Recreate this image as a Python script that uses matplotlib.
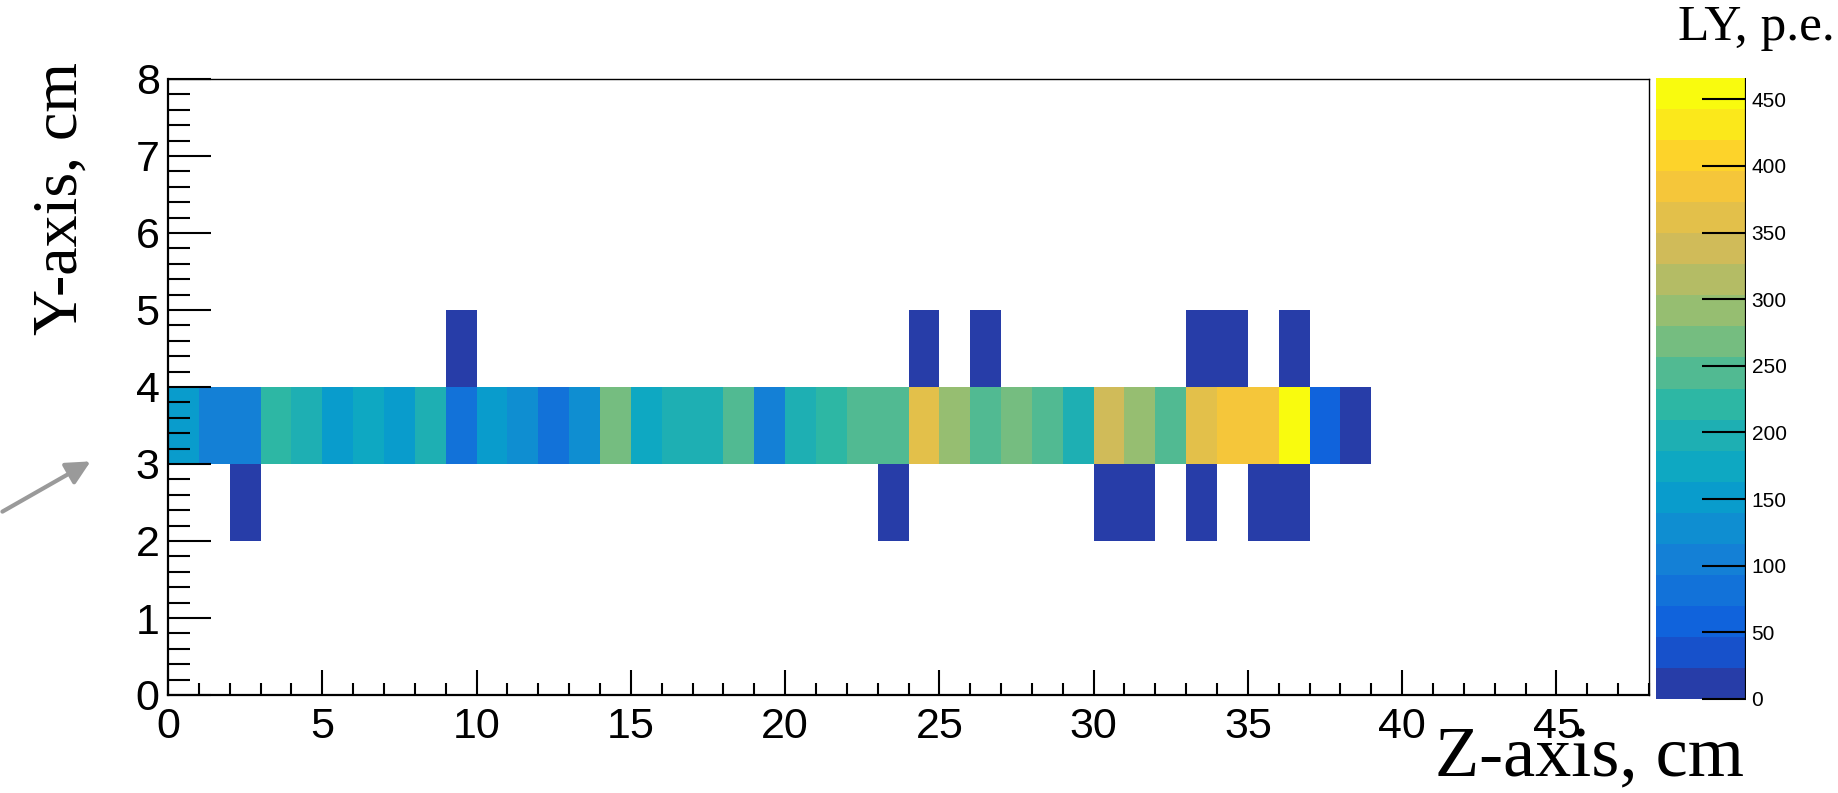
import numpy as np
import matplotlib.pyplot as plt
from matplotlib.colors import LinearSegmentedColormap, ListedColormap, BoundaryNorm
from matplotlib.ticker import MultipleLocator

# Light yield per 1x1 cm cell, central row (Y = 3..4 cm), Z = 0..38 cm
row_z = np.arange(39)
row_ly = [152, 115, 115, 222, 200, 152, 172, 150, 198, 80,
          155, 130, 92, 125, 268, 170, 205, 205, 248, 110,
          202, 225, 245, 245, 362, 292, 248, 270, 248, 200,
          338, 292, 248, 360, 390, 390, 466, 60, 14]

# Cells above (Y = 4..5 cm) and below (Y = 2..3 cm) the central row
upper_z = [9, 24, 26, 33, 34, 36]
upper_ly = [12, 10, 9, 14, 11, 13]
lower_z = [2, 23, 30, 31, 33, 35, 36]
lower_ly = [10, 12, 15, 11, 9, 13, 12]

ly_max = 466
n_levels = 20
cbar_ticks = np.arange(0, 451, 50)

# ROOT kBird palette
stops = [0.0, 0.125, 0.25, 0.375, 0.5, 0.625, 0.75, 0.875, 1.0]
red = [0.2082, 0.0592, 0.0780, 0.0232, 0.1802, 0.5301, 0.8186, 0.9956, 0.9764]
green = [0.1664, 0.3599, 0.5041, 0.6419, 0.7178, 0.7492, 0.7328, 0.7862, 0.9832]
blue = [0.5293, 0.8684, 0.8385, 0.7914, 0.6425, 0.4662, 0.3499, 0.1968, 0.0539]
bird = LinearSegmentedColormap.from_list(
    "bird", list(zip(stops, zip(red, green, blue))))
cmap = ListedColormap([bird((i + 0.99) / n_levels) for i in range(n_levels)])
levels = np.linspace(0, ly_max, n_levels + 1)
norm = BoundaryNorm(levels, cmap.N)

# fill the 48 x 8 grid
H = np.full((8, 48), np.nan)
H[3, row_z] = row_ly
H[4, upper_z] = upper_ly
H[2, lower_z] = lower_ly
H = np.ma.masked_invalid(H)

W, Hpx = 1838, 793
fig = plt.figure(figsize=(W / 100, Hpx / 100), dpi=100)
ax = fig.add_axes([168 / W, 1 - 695 / Hpx, (1649 - 168) / W, (695 - 79) / Hpx])
cax = fig.add_axes([1656 / W, 1 - 699 / Hpx, (1746 - 1656) / W, (699 - 78) / Hpx])

mesh = ax.pcolormesh(np.arange(49), np.arange(9), H, cmap=cmap, norm=norm)
ax.set_xlim(0, 48)
ax.set_ylim(0, 8)

ax.xaxis.set_major_locator(MultipleLocator(5))
ax.xaxis.set_minor_locator(MultipleLocator(1))
ax.yaxis.set_major_locator(MultipleLocator(1))
ax.yaxis.set_minor_locator(MultipleLocator(0.2))
ax.tick_params(axis="x", which="major", direction="in", length=18, width=1.5,
               labelsize=31, pad=9)
ax.tick_params(axis="x", which="minor", direction="in", length=9, width=1.5)
ax.tick_params(axis="y", which="major", direction="in", length=31, width=1.5,
               labelsize=31, pad=6)
ax.tick_params(axis="y", which="minor", direction="in", length=15.5, width=1.5)
for lab in ax.get_xticklabels() + ax.get_yticklabels():
    lab.set_family("Liberation Sans")
for side in ["left", "bottom"]:
    ax.spines[side].set_linewidth(1.6)
for side in ["top", "right"]:
    ax.spines[side].set_linewidth(1.0)

cb = fig.colorbar(mesh, cax=cax, ticks=cbar_ticks)
cb.minorticks_off()
cb.outline.set_visible(False)
cax.axvline(1, color="black", lw=1.6)
cax.tick_params(direction="in", length=32, width=1.5, labelsize=15, pad=4)
for lab in cax.get_yticklabels():
    lab.set_family("Liberation Sans")

serif = "Liberation Serif"
fig.text(62 / W, 1 - 62 / Hpx, "Y-axis, cm", rotation=90, ha="center",
         va="top", family=serif, size=46)
fig.text(1744 / W, 1 - 776 / Hpx, "Z-axis, cm", ha="right", va="baseline",
         family=serif, size=52)
fig.text(1678 / W, 1 - 40 / Hpx, "LY, p.e.", ha="left", va="baseline",
         family=serif, size=37)

# grey pointer at the left edge
ax.annotate("", xy=(93, Hpx - 460), xytext=(0, Hpx - 513),
            xycoords="figure pixels", textcoords="figure pixels",
            arrowprops=dict(arrowstyle="-|>", color="#9a9a9a", lw=3,
                            mutation_scale=36))

fig.savefig("out.png", dpi=100)
